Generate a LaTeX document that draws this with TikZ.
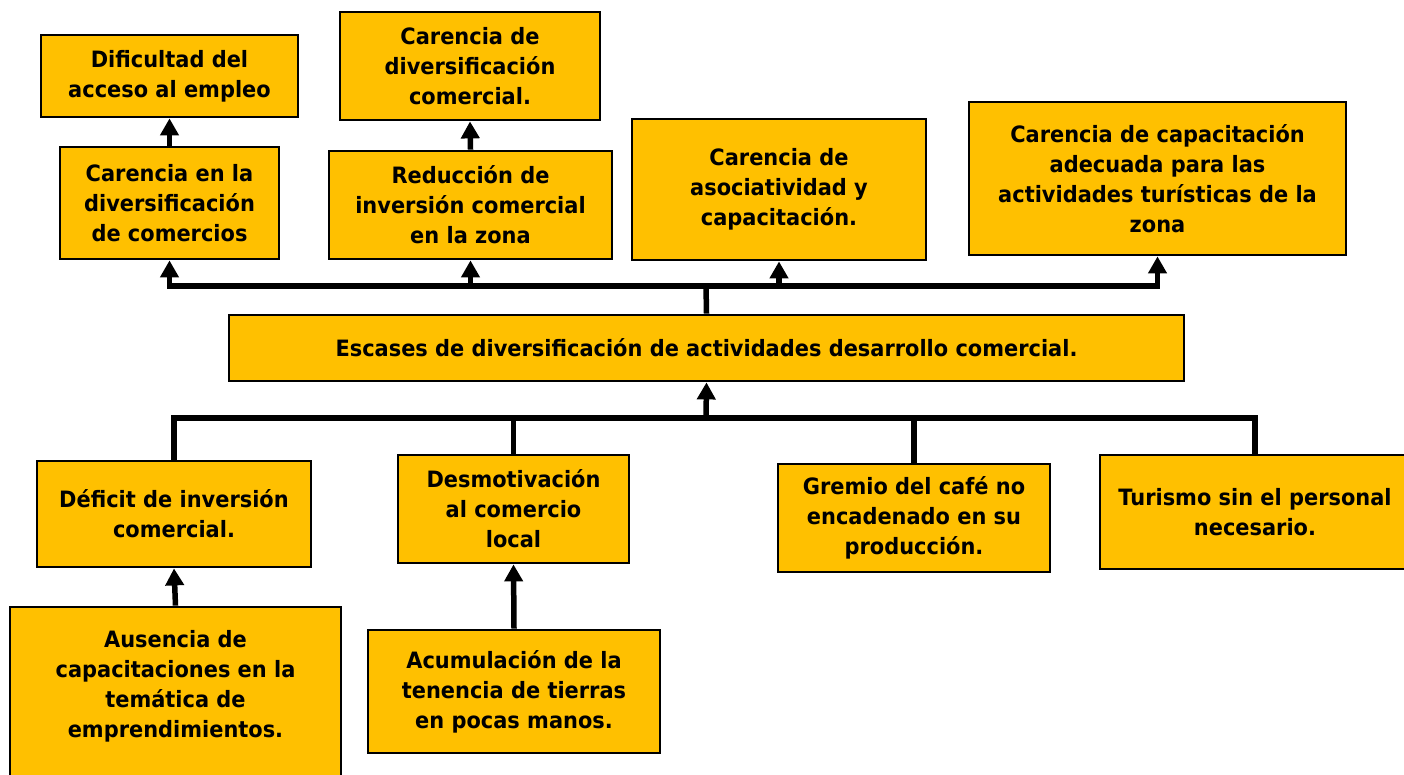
\documentclass[tikz,border=0pt]{standalone}
\usepackage{fontspec}
\setmainfont{DejaVu Sans}[FakeStretch=0.93]
\usepackage{tikz}
\usetikzlibrary{arrows.meta}
\definecolor{boxgold}{HTML}{FFC000}
\tikzset{
  cause/.style={draw=black,line width=2.8pt,fill=boxgold,align=center,inner sep=0pt,
    font=\fontsize{22.5}{30}\selectfont\bfseries},
  link/.style={line width=5.5pt},
  arr/.style={line width=5.5pt,-{Triangle[length=17pt,width=18pt]}}
}
\begin{document}
\begin{tikzpicture}[x=1pt,y=-1pt]
\useasboundingbox (0,0) rectangle (1404,774);

\node[cause,minimum width=257pt,minimum height=82pt] (dif) at (169.5,76) {Dificultad del\\acceso al empleo};
\node[cause,minimum width=260pt,minimum height=108pt] (cdc) at (470,66) {Carencia de\\diversificación\\comercial.};
\node[cause,minimum width=219pt,minimum height=112pt] (cen) at (169.5,203) {Carencia en la\\diversificación\\de comercios};
\node[cause,minimum width=283pt,minimum height=108pt] (red) at (470.5,205) {Reducción de\\inversión comercial\\en la zona};
\node[cause,minimum width=294pt,minimum height=141pt] (aso) at (779,189.5) {Carencia de\\asociatividad y\\capacitación.};
\node[cause,minimum width=377pt,minimum height=153pt] (cap) at (1157.5,178.5) {Carencia de capacitación\\adecuada para las\\actividades turísticas de la\\zona};

\node[cause,minimum width=955pt,minimum height=66pt] (esc) at (706.5,348) {Escases de diversificación de actividades desarrollo comercial.};

\node[cause,minimum width=274pt,minimum height=106pt] (def) at (174,514) {Déficit de inversión\\comercial.};
\node[cause,minimum width=231pt,minimum height=108pt] (des) at (513.5,509) {Desmotivación\\al comercio\\local};
\node[cause,minimum width=272pt,minimum height=108pt] (gre) at (914,518) {Gremio del café no\\encadenado en su\\producción.};
\node[cause,minimum width=310pt,minimum height=114pt] (tur) at (1255,512) {Turismo sin el personal\\necesario.};
\node[cause,minimum width=331pt,minimum height=183pt] (aus) at (175.5,698.5) {Ausencia de\\capacitaciones en la\\temática de\\emprendimientos.\\~};
\node[cause,minimum width=292pt,minimum height=123pt] (acu) at (514,691.5) {Acumulación de la\\tenencia de tierras\\en pocas manos.};

\coordinate (top) at (706,286);
\coordinate (bot) at (706,418);

\draw[link] (esc.north) -- (top);
\draw[arr] (top) -| (cen.south);
\draw[arr] (top) -| (red.south);
\draw[arr] (top) -| (aso.south);
\draw[arr] (top) -| (cap.south);
\draw[arr] (cen.north) -- (dif.south);
\draw[arr] (red.north) -- (cdc.south);

\draw[link] (def.north) |- (bot) -| (tur.north);
\draw[link] (des.north) -- (des.north |- bot);
\draw[link] (gre.north) -- (gre.north |- bot);
\draw[arr] (bot) -- (esc.south);
\draw[arr] (aus.north) -- (def.south);
\draw[arr] (acu.north) -- (des.south);
\end{tikzpicture}
\end{document}
